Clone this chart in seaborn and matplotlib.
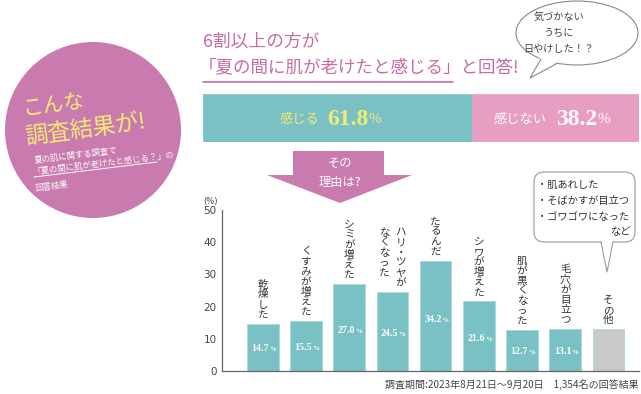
import matplotlib
matplotlib.use("Agg")
import matplotlib.pyplot as plt
import seaborn as sns
import pandas as pd
from matplotlib.patches import Polygon, Ellipse, FancyBboxPatch, Circle

# ---------------- data ----------------
categories = ["乾燥した", "くすみが増えた", "シミが増えた", "ハリ・ツヤがなくなった",
              "たるんだ", "シワが増えた", "肌が黒くなった", "毛穴が目立つ", "その他"]
values = [14.7, 15.5, 27.0, 24.5, 34.2, 21.6, 12.7, 13.1, 13.0]
value_labels = ["14.7", "15.5", "27.0", "24.5", "34.2", "21.6", "12.7", "13.1", ""]
label_columns = [["乾燥した"], ["くすみが増えた"], ["シミが増えた"], ["ハリ・ツヤが", "なくなった"],
                 ["たるんだ"], ["シワが増えた"], ["肌が黒くなった"], ["毛穴が目立つ"], ["その他"]]
bar_colors = ["#79C1C4"] * 8 + ["#C9C9C9"]
feel_labels = ["感じる", "感じない"]
feel_values = [61.8, 38.2]
feel_value_labels = ["61.8", "38.2"]
yticks = [0, 10, 20, 30, 40, 50]
other_items = ["・肌あれした", "・そばかすが目立つ", "・ゴワゴワになった"]

TEAL = "#79C1C4"
PINK = "#E89DC2"
MAUVE = "#C97AAE"
TITLE = "#C46CA3"
YELLOW = "#F3EC72"
JP = ["Noto Sans CJK JP", "DejaVu Sans"]
SERIF = ["Liberation Serif", "DejaVu Serif"]

sns.set_style("white")
plt.rcParams["font.family"] = JP

W, H = 641, 394
fig = plt.figure(figsize=(W / 100, H / 100), dpi=100)


def rect(x0, y0, x1, y1):
    return [x0 / W, 1 - y1 / H, (x1 - x0) / W, (y1 - y0) / H]


# ---------------- bar chart ----------------
ax = fig.add_axes(rect(222, 210, 639, 371))
ax.patch.set_alpha(0)
df = pd.DataFrame({"cat": categories, "val": values})
sns.barplot(data=df, x="cat", y="val", hue="cat", palette=bar_colors, legend=False,
            width=0.73, saturation=1, ax=ax, edgecolor="#A9D8DA", linewidth=0.6)
ax.set_xlim(-0.944, 8.708)
ax.set_ylim(0, 50)
ax.set_yticks(yticks)
ax.set_xticks([])
ax.set_xlabel("")
ax.set_ylabel("")
for s in ["top", "right"]:
    ax.spines[s].set_visible(False)
for s in ["left", "bottom"]:
    ax.spines[s].set_color("#666666")
    ax.spines[s].set_linewidth(0.9)
ax.tick_params(axis="y", direction="in", length=6, width=0.9, color="#999999",
               labelsize=7.5, labelcolor="#444444", pad=4)
for t in ax.get_yticklabels():
    t.set_fontfamily(["DejaVu Sans"])

# value labels inside bars
for i, (v, lab) in enumerate(zip(values, value_labels)):
    if not lab:
        continue
    t = ax.text(i - 0.06, v * 0.47, lab, ha="center", va="center", color="white",
                fontsize=7.2, fontweight="bold", family=SERIF)
    ax.annotate("%", xy=(1, 0.12), xycoords=t, ha="left", va="bottom", color="white",
                fontsize=5, fontweight="bold", family=SERIF)

# vertical category labels
pitch = 7.3
base = 6.4
for i, (v, cols) in enumerate(zip(values, label_columns)):
    ncols = len(cols)
    nmax = len(cols[0])
    for j, col in enumerate(cols):
        dx = (ncols - 1) / 2 * 12 - j * 12
        for k, ch in enumerate(col):
            dy = base + (nmax - 1 - k) * pitch
            ax.annotate(ch, xy=(i, v), xytext=(dx, dy), textcoords="offset points",
                        ha="center", va="center", fontsize=7.6, color="#333333",
                        annotation_clip=False)

# ---------------- stacked bar ----------------
sb = fig.add_axes(rect(203, 94, 639, 142))
left = 0
for val, c in zip(feel_values, [TEAL, PINK]):
    sb.barh([0], [val], left=left, color=c, height=1.0, edgecolor=c, linewidth=0.5)
    left += val
sb.set_xlim(0, 100)
sb.set_ylim(-0.5, 0.5)
sb.axis("off")

# ---------------- overlay ----------------
ov = fig.add_axes([0, 0, 1, 1])
ov.set_xlim(0, W)
ov.set_ylim(H, 0)
ov.axis("off")
ov.patch.set_visible(False)
ov.set_zorder(5)

# circle badge
ov.add_patch(Circle((93, 130), 88, color=MAUVE, lw=0))
ov.text(23, 115, "こんな", rotation=7.5, rotation_mode="anchor", ha="left", va="baseline",
        fontsize=15, color=YELLOW)
ov.text(26, 144, "調査結果が!", rotation=7.5, rotation_mode="anchor", ha="left",
        va="baseline", fontsize=16.5, color=YELLOW)
ov.text(35, 163, "夏の肌に関する調査で", rotation=7, rotation_mode="anchor", ha="left",
        va="baseline", fontsize=6, color="white")
ov.text(33, 174, "「夏の間に肌が老けたと感じる？」の", rotation=7, rotation_mode="anchor",
        ha="left", va="baseline", fontsize=6, color="white")
ov.plot([34, 157], [177, 162], color="white", lw=0.7)
ov.text(35, 191, "回答結果", rotation=7, rotation_mode="anchor", ha="left",
        va="baseline", fontsize=6, color="white")

# title
ov.text(203, 42, "6割以上の方が", ha="left", va="center", fontsize=12.8, color=TITLE)
ov.text(199, 67, "「夏の間に肌が老けたと感じる」と回答!", ha="left", va="center",
        fontsize=12.6, color=TITLE)
ov.plot([203, 453], [82, 82], color=TITLE, lw=1.2)

# top-right speech bubble
ov.add_patch(Ellipse((577, 33), 122, 64, facecolor="white", edgecolor="#888888", lw=0.8))
ov.add_patch(Polygon([(540, 57.5), (530, 78), (557, 62)], closed=True, facecolor="white",
                     edgecolor="none"))
ov.plot([541, 530, 556], [59, 78, 64], color="#888888", lw=0.8)
for yy, s in zip([17, 33, 49], ["気づかない", "うちに", "日やけした！？"]):
    ov.text(559, yy, s, ha="center", va="center", fontsize=7.3, color="#444444")

# stacked bar texts
ov.text(319, 119, feel_labels[0], ha="right", va="center", fontsize=9.5, color=YELLOW)
t1 = ov.text(327, 119, feel_value_labels[0], ha="left", va="center", fontsize=17,
             fontweight="bold", family=SERIF, color=YELLOW)
ov.annotate("%", xy=(1, 0.18), xycoords=t1, ha="left", va="bottom", fontsize=11,
            family=SERIF, color=YELLOW)
ov.text(547, 119, feel_labels[1], ha="right", va="center", fontsize=9.5, color="white")
t2 = ov.text(556, 119, feel_value_labels[1], ha="left", va="center", fontsize=17,
             fontweight="bold", family=SERIF, color="white")
ov.annotate("%", xy=(1, 0.18), xycoords=t2, ha="left", va="bottom", fontsize=11,
            family=SERIF, color="white")

# arrow
ov.add_patch(Polygon([(293, 151), (384, 151), (384, 175), (412, 175), (340, 203),
                      (267, 175), (293, 175)], closed=True, facecolor=MAUVE, edgecolor="none"))
ov.text(340, 163, "その", ha="center", va="center", fontsize=8.8, color="white")
ov.text(340, 182, "理由は?", ha="center", va="center", fontsize=8.8, color="white")

# (%) label
ov.text(210, 201, "(%)", ha="center", va="center", fontsize=6, color="#444444",
        family=["DejaVu Sans"])

# other bubble
ov.add_patch(FancyBboxPatch((534, 172), 101, 70, boxstyle="round,pad=0,rounding_size=10",
                            facecolor="white", edgecolor="#999999", lw=0.8))
ov.add_patch(Polygon([(601.5, 240), (612.5, 240), (607, 270)], closed=True,
                     facecolor="white", edgecolor="none"))
ov.plot([601, 607, 613], [242, 272, 242], color="#999999", lw=0.8)
for yy, s in zip([185, 201, 217], other_items):
    ov.text(537, yy, s, ha="left", va="center", fontsize=7.4, color="#333333")
ov.text(631, 232, "など", ha="right", va="center", fontsize=7.4, color="#333333")

# footer
ov.text(639, 385, "調査期間:2023年8月21日〜9月20日　1,354名の回答結果", ha="right",
        va="center", fontsize=7.2, color="#444444")

fig.savefig("out.png", dpi=100)
